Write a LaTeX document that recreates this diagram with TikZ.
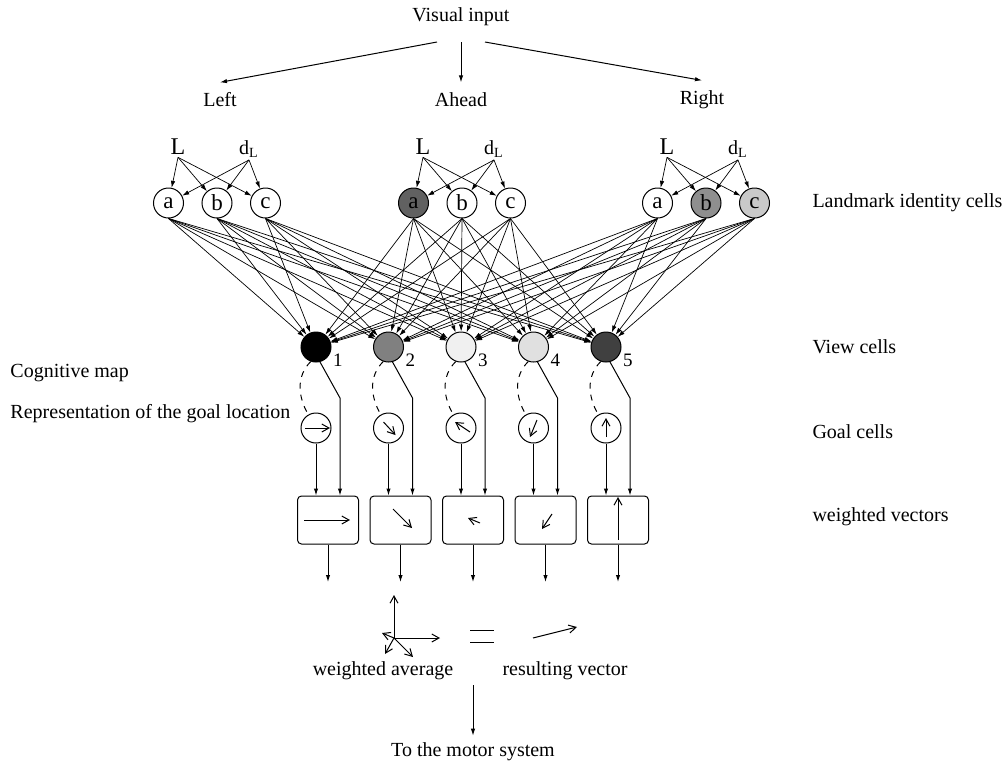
\documentclass[tikz,border=0pt]{standalone}
\usepackage{fontspec}
\setmainfont{Liberation Serif}
\usetikzlibrary{arrows.meta}

\definecolor{lmdark}{gray}{0.38}
\definecolor{lmmid}{gray}{0.56}
\definecolor{lmlight}{gray}{0.79}
\definecolor{vc2}{gray}{0.5}
\definecolor{vc3}{gray}{0.94}
\definecolor{vc4}{gray}{0.88}
\definecolor{vc5}{gray}{0.25}

\tikzset{
  cell/.style={circle, draw, inner sep=0pt, minimum size=15pt, font=\fontsize{11.5}{12}\selectfont},
  vecbox/.style={draw, rounded corners=2pt, minimum width=30.5pt, minimum height=24pt},
  sidelbl/.style={anchor=west, inner sep=0pt},
  dirlbl/.style={inner sep=5pt},
  bigL/.style={font=\fontsize{12}{13}\selectfont, inner sep=1pt},
  dlbl/.style={inner sep=1pt},
  numlbl/.style={font=\fontsize{9.5}{10}\selectfont, inner sep=0.5pt, label distance=0.5pt},
  arr/.style={-{Latex[length=3.5pt,width=2.2pt]}},
  fan/.style={-{Latex[length=3.5pt,width=2.2pt]}, line width=0.35pt},
  vec/.style={-{Straight Barb[length=3.6pt,width=4pt]}},
}

\begin{document}
\begin{tikzpicture}[x=0.5pt, y=-0.5pt, line width=0.5pt, font=\fontsize{10}{12}\selectfont]
  \useasboundingbox (0,0) rectangle (1008,767);

  % visual input split into three directions
  \node (vis) at (461,17) {Visual input};
  \node[dirlbl] (left) at (220,100) {Left};
  \node[dirlbl] (ahead) at (461,100) {Ahead};
  \node[dirlbl] (right) at (702,100) {Right};
  \coordinate (visL) at (437,42);
  \coordinate (visA) at (461,42);
  \coordinate (visR) at (485,42);
  \draw[arr] (visL) -- (left.north);
  \draw[arr] (visA) -- (ahead.north);
  \draw[arr] (visR) -- (right.north);

  % landmark identity cells, one group per direction
  \foreach \g/\x/\fa/\fb/\fc in {L/217/white/white/white, A/462/lmdark/white/white, R/706/white/lmmid/lmlight} {
    \node[bigL] (L\g) at (\x-39,147) {L};
    \node[dlbl] (d\g) at (\x+32,149) {d\textsubscript{L}};
    \node[cell, fill=\fa] (lm\g a) at (\x-48.5,203) {a};
    \node[cell, fill=\fb] (lm\g b) at (\x,203) {b};
    \node[cell, fill=\fc] (lm\g c) at (\x+48.5,203) {c};
    \foreach \c in {a,b,c} {
      \draw[fan] (L\g.south) -- (lm\g\c);
      \draw[fan] (d\g.south) -- (lm\g\c);
    }
  }

  % view cells, goal cells and weighted vectors
  \foreach \i/\x/\f in {1/316/black, 2/388.5/vc2, 3/461/vc3, 4/533.5/vc4, 5/606/vc5} {
    \node[cell, fill=\f, label={[numlbl]-20:\i}] (v\i) at (\x,347) {};
    \node[cell] (g\i) at (\x,428) {};
    \node[vecbox] (box\i) at (\x+12,520) {};
    \coordinate (bend\i) at (\x+24,398);
    \coordinate (out\i) at (\x+12,582);
    \draw[dashed] (v\i.250) to[out=225,in=120] (g\i.120);
    \draw[arr] (v\i.285) -- (bend\i) -- (bend\i |- box\i.north);
    \draw[arr] (g\i) -- (g\i |- box\i.north);
    \draw[arr] (box\i) -- (out\i);
  }

  % every landmark cell feeds every view cell
  \foreach \g in {L,A,R}
    \foreach \c in {a,b,c}
      \foreach \i in {1,...,5}
        \draw[fan] (lm\g\c.south) -- (v\i);

  % directions stored in the goal cells
  \foreach \i/\ax/\ay/\bx/\by in {1/-11/0/14/0, 2/-5/-6/7/7, 3/9/4/-6/-6, 4/3.5/-8/-3.5/9, 5/0/9/0/-10}
    \draw[vec, shift={(g\i)}] (\ax,\ay) -- (\bx,\by);

  % weighted vectors
  \foreach \i/\ax/\ay/\bx/\by in {1/-24/0/22/0, 2/-7.5/-11/11.5/8, 3/7/3/-5/-2, 4/6.5/-6/-3.5/9, 5/0/20/0/-23}
    \draw[vec, shift={(box\i)}] (\ax,\ay) -- (\bx,\by);

  % weighted average = resulting vector
  \coordinate (avg) at (394,638);
  \draw[vec] (avg) -- ++(0,-43);
  \draw[vec] (avg) -- ++(46,0);
  \draw[vec] (avg) -- ++(19,19);
  \draw[vec] (avg) -- ++(-9,16);
  \draw[vec] (avg) -- ++(-12,-5);
  \draw (470,630) -- (494,630);
  \draw (470,642) -- (494,642);
  \draw[vec] (533,638) -- (577,627);
  \node (wavg) at (383,671) {weighted average};
  \node (res) at (565,671) {resulting vector};
  \coordinate (down) at (473,685);
  \node (motor) at (473,752) {To the motor system};
  \draw[arr] (down) -- (motor);

  % layer labels
  \node[sidelbl] (lbllm) at (812,203) {Landmark identity cells};
  \node[sidelbl] (lblview) at (812,347) {View cells};
  \node[sidelbl] (lblgoal) at (812,432) {Goal cells};
  \node[sidelbl] (lblvec) at (812,517) {weighted vectors};
  \node[sidelbl] (lblmap) at (10,373) {Cognitive map};
  \node[sidelbl] (lblrep) at (10,414) {Representation of the goal location};
\end{tikzpicture}
\end{document}
